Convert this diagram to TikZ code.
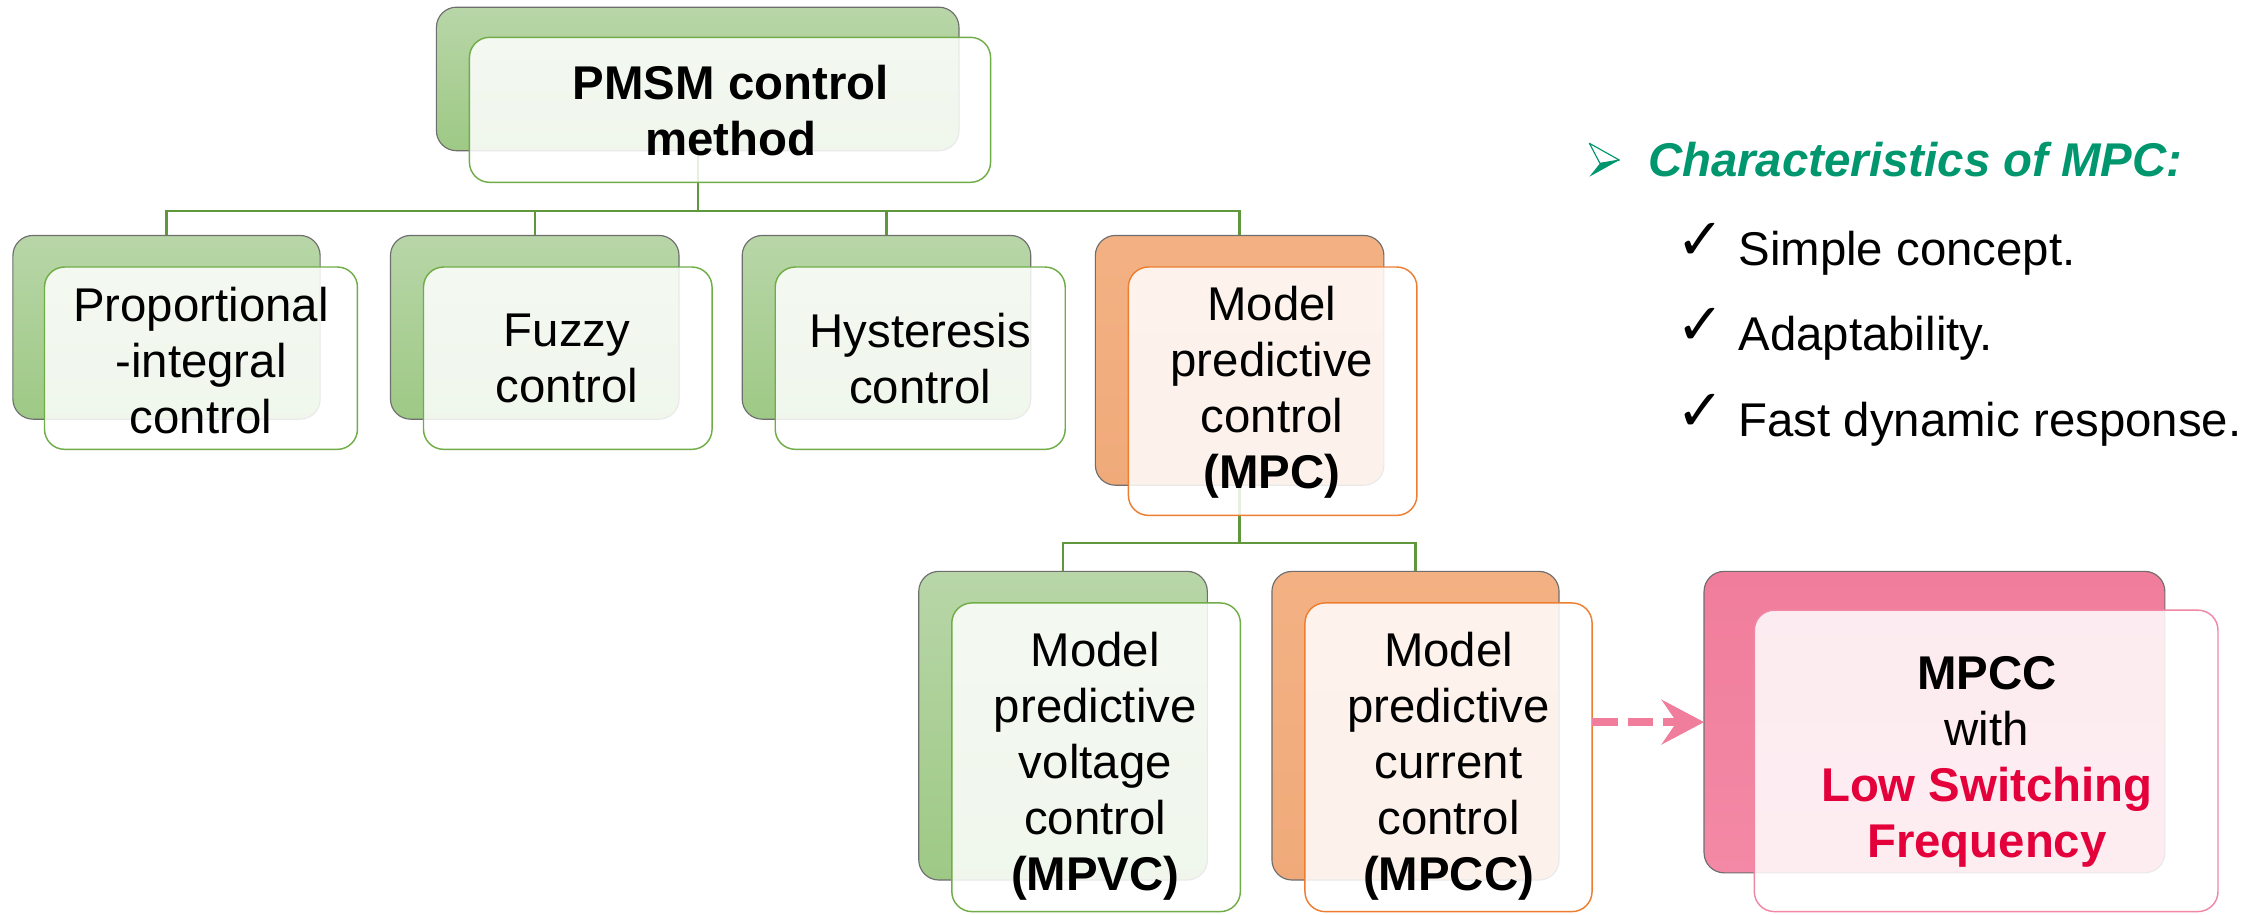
\documentclass[tikz,border=0pt]{standalone}
\usepackage{fontspec}
\setmainfont{Liberation Sans}
\newfontfamily\dejavu{DejaVu Sans}
\usetikzlibrary{arrows.meta}
\definecolor{gtop}{RGB}{184,214,168}
\definecolor{gbot}{RGB}{158,201,133}
\definecolor{gline}{RGB}{112,173,71}
\definecolor{connc}{RGB}{96,150,60}
\definecolor{otop}{RGB}{243,177,131}
\definecolor{obot}{RGB}{240,170,122}
\definecolor{oline}{RGB}{237,125,49}
\definecolor{ptop}{RGB}{240,125,155}
\definecolor{pbot}{RGB}{243,137,166}
\definecolor{pline}{RGB}{240,135,165}
\definecolor{parrow}{RGB}{240,125,155}
\definecolor{redtxt}{RGB}{228,0,58}
\definecolor{tealc}{RGB}{0,150,110}
\definecolor{edgec}{RGB}{110,110,110}
\begin{document}
\begin{tikzpicture}[x=1pt,y=-1pt,
  every node/.style={inner sep=0pt,outer sep=0pt},
  boxbase/.style={rounded corners=14pt, anchor=north west},
  backg/.style={boxbase, draw=edgec, line width=0.8pt, top color=gtop, bottom color=gbot},
  backo/.style={boxbase, draw=edgec, line width=0.8pt, top color=otop, bottom color=obot},
  backp/.style={boxbase, draw=edgec, line width=0.8pt, top color=ptop, bottom color=pbot},
  frontg/.style={boxbase, draw=gline, line width=1pt, fill=white, fill opacity=0.85},
  fronto/.style={boxbase, draw=oline, line width=1pt, fill=white, fill opacity=0.85},
  frontp/.style={boxbase, draw=pline, line width=1pt, fill=white, fill opacity=0.85},
  lbl/.style={align=center, font=\fontsize{33}{39}\selectfont, text=black},
  conn/.style={draw=connc, line width=1.6pt},
  dasharrow/.style={draw=parrow, line width=5.8pt, dash pattern=on 18pt off 6.7pt,
     -{Stealth[length=29.5pt,width=31pt,inset=10.5pt]}},
  bodytext/.style={anchor=base west, font=\fontsize{33}{39}\selectfont, text=black},
  checkm/.style={anchor=base west, font=\dejavu\fontsize{40}{44}\selectfont, text=black}
]
\fill[white] (0,0) rectangle (1568,637);
\useasboundingbox (0,0) rectangle (1568,637);

% back boxes
\node[backg, minimum width=364pt, minimum height=100pt] (pmsmB) at (304,5) {};
\node[backg, minimum width=214pt, minimum height=128pt] (piB) at (9,164) {};
\node[backg, minimum width=201pt, minimum height=128pt] (fzB) at (272,164) {};
\node[backg, minimum width=201pt, minimum height=128pt] (hyB) at (517,164) {};
\node[backo, minimum width=201pt, minimum height=174pt] (mpcB) at (763,164) {};
\node[backg, minimum width=201pt, minimum height=215pt] (mpvcB) at (640,398) {};
\node[backo, minimum width=200pt, minimum height=215pt] (mpccB) at (886,398) {};
\node[backp, minimum width=321pt, minimum height=210pt] (lowB) at (1187,398) {};

% connectors
\draw[conn] (pmsmB.south) -- ++(0,42) coordinate (h1);
\draw[conn] (piB.north) |- (h1) -| (mpcB.north);
\draw[conn] (fzB.north) -- (fzB.north |- h1);
\draw[conn] (hyB.north) -- (hyB.north |- h1);
\draw[conn] (mpcB.south) -- ++(0,40) coordinate (h2);
\draw[conn] (mpvcB.north) |- (h2) -| (mpccB.north);

% front boxes
\node[frontg, minimum width=363pt, minimum height=101pt] (pmsmF) at (327,26) {};
\node[frontg, minimum width=218pt, minimum height=127pt] (piF) at (31,186) {};
\node[frontg, minimum width=201pt, minimum height=127pt] (fzF) at (295,186) {};
\node[frontg, minimum width=202pt, minimum height=127pt] (hyF) at (540,186) {};
\node[fronto, minimum width=201pt, minimum height=173pt] (mpcF) at (786,186) {};
\node[frontg, minimum width=201pt, minimum height=215pt] (mpvcF) at (663,420) {};
\node[fronto, minimum width=200pt, minimum height=215pt] (mpccF) at (909,420) {};
\node[frontp, minimum width=323pt, minimum height=210pt] (lowF) at (1222,425) {};

% labels
\node[lbl, font=\bfseries\fontsize{33}{39}\selectfont] (pmsmT) at (509,77) {PMSM control\\method};
\node[lbl] (piT) at (140,251) {Proportional\\-integral\\control};
\node[lbl] (fzT) at (395,250) {Fuzzy\\control};
\node[lbl] (hyT) at (641,250) {Hysteresis\\control};
\node[lbl] (mpcT) at (886,273) {Model\\predictive\\control\\\textbf{(MPC)}};
\node[lbl] (mpvcT) at (763,534) {Model\\predictive\\voltage\\control\\\textbf{(MPVC)}};
\node[lbl] (mpccT) at (1009,534) {Model\\predictive\\current\\control\\\textbf{(MPCC)}};
\node[lbl] (lowT) at (1384,531) {\textbf{MPCC}\\with\\\textcolor{redtxt}{\textbf{Low Switching}}\\\textcolor{redtxt}{\textbf{Frequency}}};

% dashed arrow
\draw[dasharrow] (mpccF.east |- lowB.west) -- (lowB.west);

% characteristics
\fill[tealc] (1114.5,113.8) -- (1128,111.5) -- (1107.1,123.1) -- cycle;
\draw[tealc, line width=0.8pt, line join=round] (1107.1,99.8) -- (1128,111.5) -- (1114.5,113.8) -- cycle;
\node[bodytext, font=\bfseries\itshape\fontsize{33}{39}\selectfont, text=tealc] (chT) at (1148,123) {Characteristics of MPC:};
\node[checkm] (c1) at (1168,181) {✓};
\node[bodytext] (t1) at (1211,185) {Simple concept.};
\node[checkm] (c2) at (1168,240) {✓};
\node[bodytext] (t2) at (1211,244) {Adaptability.};
\node[checkm] (c3) at (1168,300) {✓};
\node[bodytext] (t3) at (1211,304) {Fast dynamic response.};
\end{tikzpicture}
\end{document}
